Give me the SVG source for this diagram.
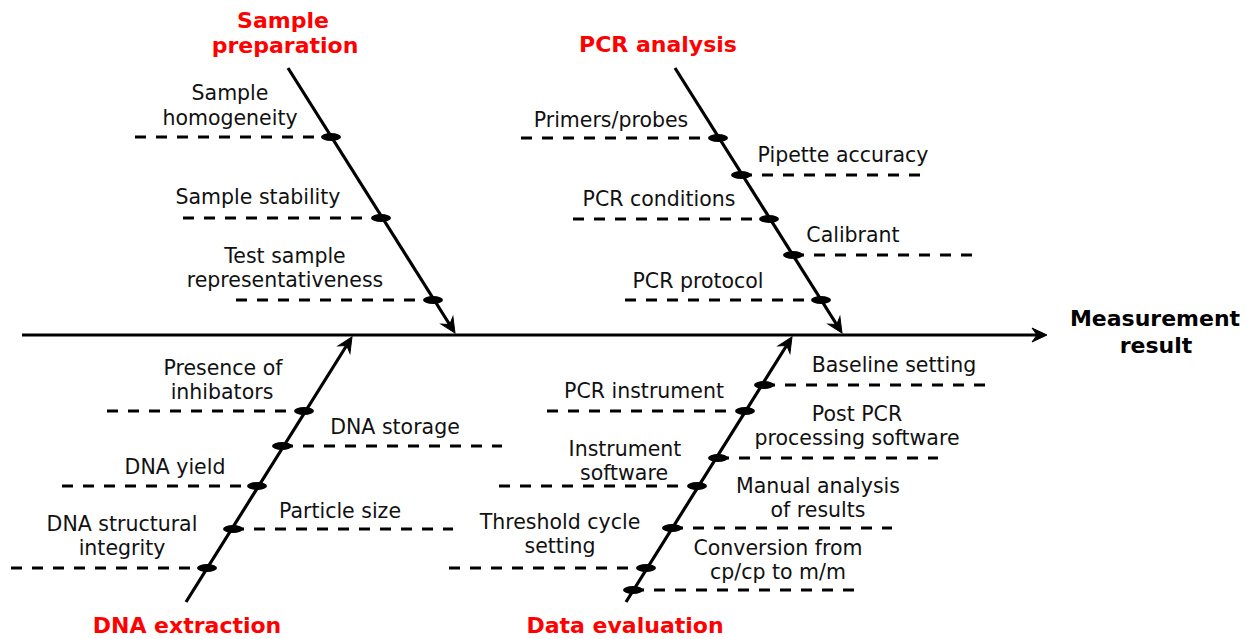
<svg xmlns="http://www.w3.org/2000/svg" width="1253" height="639" viewBox="0 0 1253 639">
<style>
.t{font-family:"DejaVu Sans",Verdana,sans-serif;font-size:20.5px;fill:#111;text-anchor:middle}
.h{font-family:"DejaVu Sans",Verdana,sans-serif;font-size:22px;font-weight:bold;fill:#ff0000;text-anchor:middle}
.m{font-family:"DejaVu Sans",Verdana,sans-serif;font-size:22px;font-weight:bold;fill:#000;text-anchor:middle}
.sp{stroke:#000;stroke-width:3.2;fill:none}
.d{stroke:#000;stroke-width:2.8;stroke-dasharray:11 10;fill:none}
.dot{fill:#000}
</style>
<defs>
<marker id="ah" markerUnits="userSpaceOnUse" viewBox="-20 -10 25 20" markerWidth="25" markerHeight="20" refX="-3" refY="0" orient="auto" overflow="visible">
<path d="M0,0 L-15,-7 L-10,0 L-15,7 Z" fill="#000" stroke="#000" stroke-width="1" stroke-linejoin="miter"/>
</marker>
</defs>
<g id="connectors">
<line class="sp" x1="22" y1="335" x2="1044" y2="335" marker-end="url(#ah)"/>
<line class="sp" x1="288" y1="68" x2="453.4" y2="330.5" marker-end="url(#ah)"/>
<line class="sp" x1="675" y1="68" x2="840.4" y2="330.5" marker-end="url(#ah)"/>
<line class="sp" x1="186" y1="602" x2="350.4" y2="339.5" marker-end="url(#ah)"/>
<line class="sp" x1="626" y1="602" x2="790.4" y2="339.5" marker-end="url(#ah)"/>
</g>
<g id="sample-preparation">
<text class="h" x="283" y="28">Sample</text>
<text class="h" x="285" y="53">preparation</text>
<line class="d" x1="135" y1="137" x2="331" y2="137"/><ellipse class="dot" cx="331" cy="137" rx="10" ry="4"/>
<text class="t" x="230" y="100">Sample</text><text class="t" x="230" y="125">homogeneity</text>
<line class="d" x1="183" y1="218" x2="381" y2="218"/><ellipse class="dot" cx="381" cy="218" rx="10" ry="4"/>
<text class="t" x="258" y="204">Sample stability</text>
<line class="d" x1="236" y1="300" x2="433" y2="300"/><ellipse class="dot" cx="433" cy="300" rx="10" ry="4"/>
<text class="t" x="285" y="263">Test sample</text><text class="t" x="285" y="287">representativeness</text>
</g>
<g id="pcr-analysis">
<text class="h" x="658" y="52">PCR analysis</text>
<line class="d" x1="521" y1="138" x2="718" y2="138"/><ellipse class="dot" cx="718" cy="138" rx="10" ry="4"/>
<text class="t" x="611" y="127">Primers/probes</text>
<line class="d" x1="741" y1="175" x2="927" y2="175"/><ellipse class="dot" cx="741" cy="175" rx="10" ry="4"/>
<text class="t" x="843" y="162">Pipette accuracy</text>
<line class="d" x1="573" y1="219" x2="769" y2="219"/><ellipse class="dot" cx="769" cy="219" rx="10" ry="4"/>
<text class="t" x="659" y="206">PCR conditions</text>
<line class="d" x1="793" y1="255" x2="981" y2="255"/><ellipse class="dot" cx="793" cy="255" rx="10" ry="4"/>
<text class="t" x="853" y="242">Calibrant</text>
<line class="d" x1="625" y1="300" x2="821" y2="300"/><ellipse class="dot" cx="821" cy="300" rx="10" ry="4"/>
<text class="t" x="698" y="288">PCR protocol</text>
</g>
<g id="dna-extraction">
<text class="h" x="187" y="633">DNA extraction</text>
<line class="d" x1="107" y1="411" x2="304" y2="411"/><ellipse class="dot" cx="304" cy="411" rx="10" ry="4"/>
<text class="t" x="223" y="375">Presence of</text><text class="t" x="222" y="399">inhibators</text>
<line class="d" x1="282" y1="446" x2="502" y2="446"/><ellipse class="dot" cx="282" cy="446" rx="10" ry="4"/>
<text class="t" x="395" y="434">DNA storage</text>
<line class="d" x1="62" y1="486" x2="257" y2="486"/><ellipse class="dot" cx="257" cy="486" rx="10" ry="4"/>
<text class="t" x="175" y="474">DNA yield</text>
<line class="d" x1="233" y1="529" x2="453" y2="529"/><ellipse class="dot" cx="233" cy="529" rx="10" ry="4"/>
<text class="t" x="340" y="518">Particle size</text>
<line class="d" x1="11" y1="568" x2="207" y2="568"/><ellipse class="dot" cx="207" cy="568" rx="10" ry="4"/>
<text class="t" x="122" y="531">DNA structural</text><text class="t" x="122" y="555">integrity</text>
</g>
<g id="data-evaluation">
<text class="h" x="625" y="633">Data evaluation</text>
<line class="d" x1="764" y1="385" x2="986" y2="385"/><ellipse class="dot" cx="764" cy="385" rx="10" ry="4"/>
<text class="t" x="894" y="372">Baseline setting</text>
<line class="d" x1="547" y1="411" x2="745" y2="411"/><ellipse class="dot" cx="745" cy="411" rx="10" ry="4"/>
<text class="t" x="644" y="398">PCR instrument</text>
<line class="d" x1="718" y1="458" x2="938" y2="458"/><ellipse class="dot" cx="718" cy="458" rx="10" ry="4"/>
<text class="t" x="857" y="421">Post PCR</text><text class="t" x="857" y="445">processing software</text>
<line class="d" x1="499" y1="486" x2="697" y2="486"/><ellipse class="dot" cx="697" cy="486" rx="10" ry="4"/>
<text class="t" x="625" y="456">Instrument</text><text class="t" x="624" y="480">software</text>
<line class="d" x1="672" y1="528" x2="892" y2="528"/><ellipse class="dot" cx="672" cy="528" rx="10" ry="4"/>
<text class="t" x="818" y="493">Manual analysis</text><text class="t" x="818" y="517">of results</text>
<line class="d" x1="449" y1="568" x2="646" y2="568"/><ellipse class="dot" cx="646" cy="568" rx="10" ry="4"/>
<text class="t" x="560" y="529">Threshold cycle</text><text class="t" x="560" y="553">setting</text>
<line class="d" x1="633" y1="590" x2="854" y2="590"/><ellipse class="dot" cx="633" cy="590" rx="10" ry="4"/>
<text class="t" x="778" y="555">Conversion from</text><text class="t" x="778" y="579">cp/cp to m/m</text>
</g>
<g id="measurement-result">
<text class="m" x="1155" y="326">Measurement</text>
<text class="m" x="1156" y="353">result</text>
</g>
</svg>
